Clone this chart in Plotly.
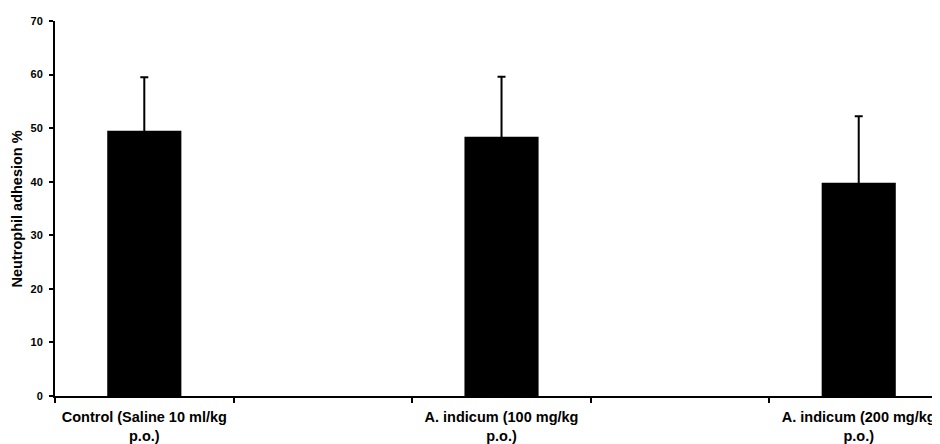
import plotly.graph_objects as go

categories = ["Control (Saline 10 ml/kg<br>p.o.)", " ", "A. indicum (100 mg/kg<br>p.o.)", "  ", "A. indicum (200 mg/kg<br>p.o.)"]
values = [49.5, None, 48.4, None, 39.8]
errors = [10.0, 0, 11.2, 0, 12.4]
y_ticks = [0, 10, 20, 30, 40, 50, 60, 70]

font_family = "Liberation Sans, Arial, sans-serif"

fig = go.Figure()
fig.add_trace(go.Bar(
    x=categories,
    y=values,
    width=0.415,
    marker=dict(color="black", line=dict(width=0)),
    error_y=dict(type="data", symmetric=True, array=errors,
                 color="black", thickness=2, width=4),
    showlegend=False,
))

# the page body adds an 8px offset; compensate in size and margins
fig.update_layout(
    width=932, height=436,
    margin=dict(l=47, r=0, t=13, b=48),
    paper_bgcolor="white", plot_bgcolor="white",
    font=dict(family=font_family, color="black"),
    xaxis=dict(
        type="category",
        categoryorder="array", categoryarray=categories,
        range=[-0.5, 4.455],
        tickson="boundaries",
        ticks="outside", ticklen=5, tickwidth=1.5, tickcolor="black",
        showline=True, linecolor="black", linewidth=2,
        showgrid=False, zeroline=False,
        tickangle=0, automargin=False,
        ticklabelstandoff=7,
        tickfont=dict(size=14.5, family=font_family, color="black", weight="bold"),
    ),
    yaxis=dict(
        range=[0, 70],
        tickvals=y_ticks,
        ticks="outside", ticklen=4, tickwidth=1.5, tickcolor="black",
        showline=True, linecolor="black", linewidth=2,
        showgrid=False, zeroline=False, automargin=False,
        ticklabelstandoff=4,
        tickfont=dict(size=11, family=font_family, color="black", weight="bold"),
    ),
    annotations=[dict(
        text="Neutrophil adhesion %",
        xref="paper", yref="paper", x=-0.043, y=0.5,
        xanchor="center", yanchor="middle",
        textangle=-90, showarrow=False,
        font=dict(size=14.5, family=font_family, color="black", weight="bold"),
    )],
)

fig.write_html("out.html")
